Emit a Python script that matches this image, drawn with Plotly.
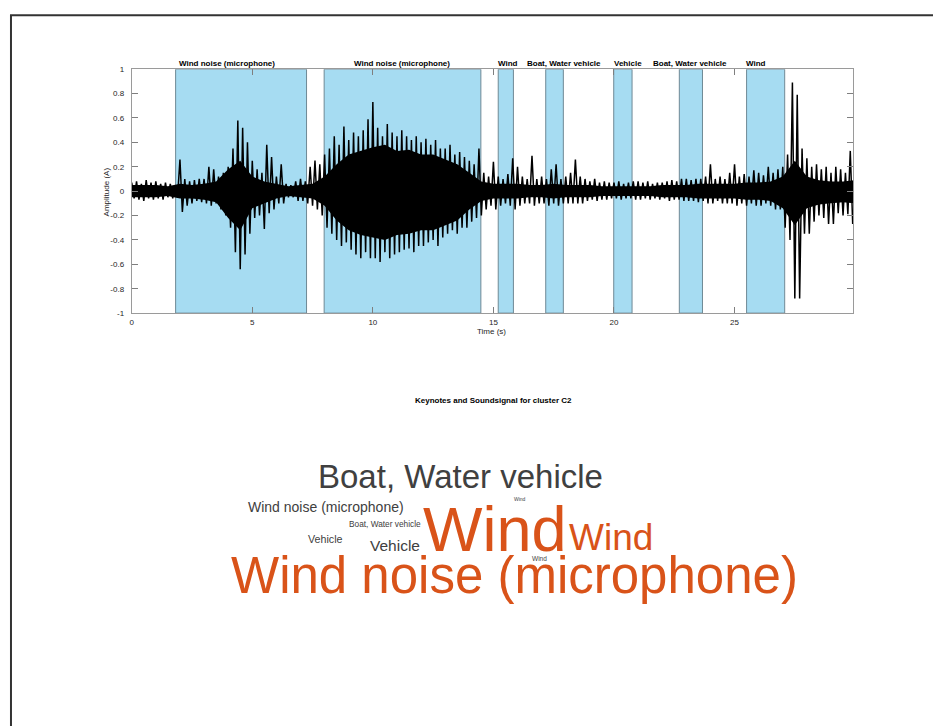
import numpy as np
import plotly.graph_objects as go

# ---------------- data ----------------
# labelled segments (seconds)
seg_labels = ["Wind noise (microphone)", "Wind noise (microphone)", "Wind",
              "Boat, Water vehicle", "Vehicle", "Boat, Water vehicle", "Wind"]
seg_start = [1.82, 7.98, 15.20, 17.17, 19.99, 22.71, 25.50]
seg_end = [7.25, 14.48, 15.83, 17.90, 20.75, 23.67, 27.08]
label_time = [3.97, 11.20, 15.62, 17.93, 20.57, 23.16, 25.89]

# waveform peaks read every 0.1 s (alternating positive / negative peaks)
wave_peaks = [
    .07, -.06, .08, -.07, .06, -.08, .09, -.06, .07, -.07,   # 0 s
    .08, -.06, .06, -.07, .07, -.05, .06, -.06, .05, -.05,   # 1 s
    .26, -.17, .10, -.12, .08, -.10, .09, -.08, .10, -.09,   # 2 s
    .10, -.10, .20, -.12, .18, -.10, .12, -.15, .15, -.20,   # 3 s
    .20, -.30, .35, -.50, .58, -.64, .52, -.52, .40, -.35,   # 4 s
    .25, -.22, .18, -.20, .15, -.31, .38, -.18, .28, -.15,   # 5 s
    .12, -.10, .22, -.10, .06, -.05, .05, -.05, .08, -.08,   # 6 s
    .10, -.08, .08, -.10, .20, -.12, .25, -.15, .22, -.20,   # 7 s
    .30, -.30, .35, -.35, .45, -.40, .38, -.45, .53, -.42,   # 8 s
    .42, -.48, .48, -.52, .45, -.55, .50, -.50, .59, -.55,   # 9 s
    .73, -.55, .52, -.58, .45, -.50, .55, -.55, .48, -.52,   # 10 s
    .45, -.50, .50, -.48, .45, -.47, .42, -.50, .45, -.45,   # 11 s
    .40, -.45, .43, -.42, .38, -.40, .42, -.45, .35, -.38,   # 12 s
    .35, -.35, .38, -.32, .30, -.35, .32, -.30, .28, -.30,   # 13 s
    .25, -.25, .22, -.22, .35, -.20, .15, -.15, .12, -.12,   # 14 s
    .24, -.15, .12, -.12, .10, -.10, .14, -.12, .27, -.15,   # 15 s
    .20, -.12, .12, -.10, .10, -.10, .29, -.12, .10, -.10,   # 16 s
    .12, -.10, .10, -.12, .18, -.10, .22, -.12, .10, -.10,   # 17 s
    .12, -.10, .15, -.10, .26, -.10, .12, -.10, .10, -.08,   # 18 s
    .08, -.07, .10, -.08, .07, -.07, .08, -.07, .07, -.06,   # 19 s
    .07, -.06, .08, -.07, .06, -.06, .07, -.06, .08, -.07,   # 20 s
    .08, -.07, .07, -.06, .08, -.07, .06, -.06, .07, -.07,   # 21 s
    .07, -.06, .08, -.08, .09, -.07, .08, -.07, .10, -.08,   # 22 s
    .10, -.08, .09, -.08, .10, -.09, .10, -.08, .12, -.10,   # 23 s
    .22, -.10, .10, -.08, .12, -.10, .10, -.10, .15, -.10,   # 24 s
    .22, -.12, .12, -.10, .14, -.12, .12, -.10, .17, -.12,   # 25 s
    .15, -.12, .13, -.10, .20, -.12, .15, -.15, .18, -.15,   # 26 s
    .20, -.30, .30, -.40, .89, -.88, .79, -.88, .35, -.35,   # 27 s
    .27, -.35, .20, -.25, .22, -.20, .18, -.22, .20, -.27,   # 28 s
    .15, -.27, .20, -.18, .18, -.20, .15, -.19, .33, -.27,   # 29 s
]
wave_step = 0.1

# dense core of the signal, read every 0.5 s
core_hi = [.05, .05, .05, .04, .06, .05, .06, .08, .18, .25, .12, .08, .06, .04, .05, .06,
           .12, .22, .30, .33, .36, .38, .33, .34, .30, .30, .26, .22, .15, .08, .06, .06,
           .06, .05, .05, .06, .05, .05, .05, .04, .04, .04, .04, .04, .05, .05, .05, .06,
           .06, .06, .06, .07, .07, .08, .12, .25, .12, .09, .08, .08, .09]
core_lo = [-.05, -.05, -.05, -.04, -.06, -.06, -.07, -.09, -.22, -.32, -.14, -.10, -.06, -.04, -.05, -.06,
           -.12, -.24, -.32, -.36, -.38, -.40, -.36, -.35, -.32, -.32, -.28, -.24, -.15, -.08, -.06, -.06,
           -.06, -.05, -.05, -.06, -.05, -.05, -.05, -.04, -.04, -.04, -.04, -.04, -.05, -.05, -.05, -.06,
           -.06, -.06, -.06, -.07, -.07, -.08, -.14, -.28, -.14, -.11, -.10, -.09, -.10]
core_step = 0.5

x_ticks = [0, 5, 10, 15, 20, 25]
y_ticks = [-1, -0.8, -0.6, -0.4, -0.2, 0, 0.2, 0.4, 0.6, 0.8, 1]
y_tick_text = ["-1", "-0.8", "-0.6", "-0.4", "-0.2", "0", "0.2", "0.4", "0.6", "0.8", "1"]
x_max = 29.92

# word cloud
words = ["Boat, Water vehicle", "Wind noise (microphone)", "Wind", "Boat, Water vehicle",
         "Vehicle", "Vehicle", "Wind", "Wind", "Wind", "Wind noise (microphone)"]
word_size = [33, 14, 5, 8.3, 10.7, 15.5, 63, 37, 6.5, 51]
word_highlight = [False, False, False, False, False, False, True, True, False, True]
word_x = [459, 325, 519, 383.5, 324, 393.5, 494, 610, 538.5, 514]   # layout position in cloud
word_y = [478, 509, 501, 527, 542, 548, 532, 540, 561, 579]

# ---------------- figure ----------------
W, H = 933, 726
ax_l, ax_r, ax_t, ax_b = 130, 853, 66, 313
FONT = "Liberation Sans"
GREY = "#404040"
ORANGE = "#D95319"
BLUE = "rgb(166,220,242)"


def px(x):
    return x / W


def py(y):
    return 1 - y / H


fig = go.Figure()

# core fill
core_t = list(np.arange(len(core_hi)) * core_step)
fig.add_trace(go.Scatter(
    x=core_t + core_t[::-1], y=core_hi + core_lo[::-1],
    fill="toself", fillcolor="black", line=dict(width=0), mode="lines",
    hoverinfo="skip"))

# peaks
wave_t = np.arange(len(wave_peaks)) * wave_step
fig.add_trace(go.Scatter(x=wave_t, y=wave_peaks, mode="lines",
                         line=dict(color="black", width=1.5), hoverinfo="skip"))

shapes = []
for s, e in zip(seg_start, seg_end):
    shapes.append(dict(type="rect", xref="x", yref="y", x0=s, x1=e, y0=-1, y1=1,
                       fillcolor=BLUE, line=dict(color="#6f8995", width=1), layer="below"))

# outer frame
shapes.append(dict(type="line", xref="paper", yref="paper", x0=px(9), x1=px(9),
                   y0=-0.05, y1=py(11.5), line=dict(color="#333333", width=2)))
shapes.append(dict(type="line", xref="paper", yref="paper", x0=px(8), x1=1.05,
                   y0=py(11.5), y1=py(11.5), line=dict(color="#333333", width=2)))

ann = []
for lab, t in zip(seg_labels, label_time):
    ann.append(dict(text="<b>" + lab + "</b>", x=t, xref="x", y=py(60), yref="paper",
                    showarrow=False, xanchor="center", yanchor="middle",
                    font=dict(family=FONT, size=8, color="black")))

ann.append(dict(text="Time (s)", x=px(491), y=py(332), xref="paper", yref="paper",
                showarrow=False, xanchor="center", yanchor="middle",
                font=dict(family=FONT, size=8, color="#262626")))
ann.append(dict(text="Amplitude (A)", x=px(105), y=py(190), xref="paper", yref="paper",
                showarrow=False, xanchor="center", yanchor="middle", textangle=-90,
                font=dict(family=FONT, size=8, color="#262626")))
ann.append(dict(text="<b>Keynotes and Soundsignal for cluster C2</b>", x=px(493), y=py(401),
                xref="paper", yref="paper", showarrow=False, xanchor="center", yanchor="middle",
                font=dict(family=FONT, size=8, color="black")))

for w, s, hl, x, y in zip(words, word_size, word_highlight, word_x, word_y):
    ann.append(dict(text=w, x=px(x), y=py(y), xref="paper", yref="paper",
                    showarrow=False, xanchor="center", yanchor="middle",
                    font=dict(family=FONT, size=s, color=ORANGE if hl else GREY)))

axis_common = dict(ticks="inside", ticklen=6, tickcolor="#7f7f7f", showline=True,
                   linecolor="#9a9a9a", linewidth=1, mirror="ticks", showgrid=False,
                   zeroline=False, tickfont=dict(family=FONT, size=8, color="#262626"))

fig.update_layout(
    width=W, height=H, margin=dict(l=0, r=0, t=0, b=0),
    paper_bgcolor="white", plot_bgcolor="white", showlegend=False,
    xaxis=dict(domain=[px(ax_l), px(ax_r)], range=[0, x_max], tickvals=x_ticks,
               ticklabelstandoff=1, **axis_common),
    yaxis=dict(domain=[py(ax_b), py(ax_t)], range=[-1, 1], tickvals=y_ticks,
               ticktext=y_tick_text, ticklabelstandoff=5, **axis_common),
    shapes=shapes, annotations=ann,
)

fig.write_html("out.html")
